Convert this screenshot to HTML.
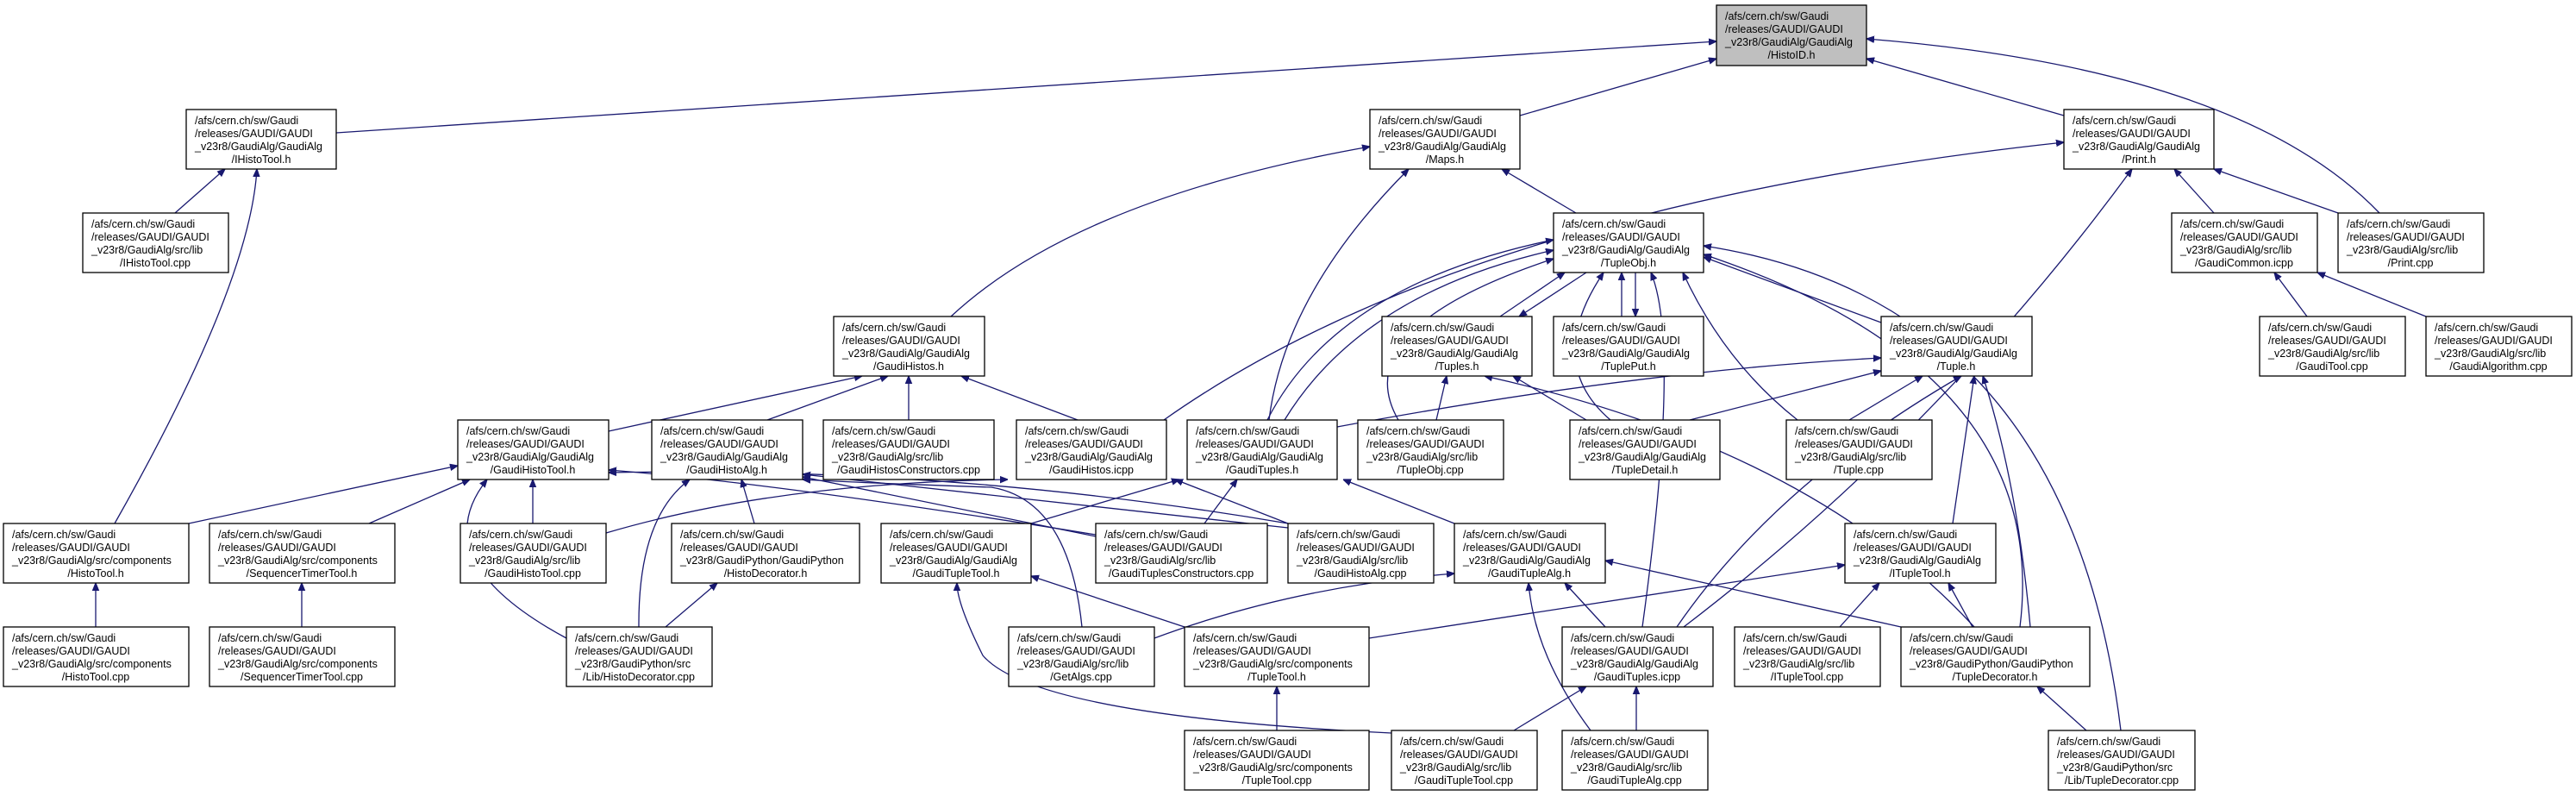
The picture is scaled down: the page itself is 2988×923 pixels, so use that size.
<!DOCTYPE html>
<html><head><meta charset="utf-8"><style>
html,body{margin:0;padding:0;background:#fff;}
svg{display:block;}
text{font-family:"Liberation Sans",Arial,sans-serif;font-size:12.5px;fill:#000;}
rect{fill:#fff;stroke:#000;stroke-width:1.3;}
path{fill:none;stroke:#191970;stroke-width:1.3;}
</style></head><body>
<svg width="2988" height="923" viewBox="0 0 2988 923" xmlns="http://www.w3.org/2000/svg">
<defs><marker id="a" viewBox="0 0 10 10" refX="10" refY="5" markerWidth="9" markerHeight="9" markerUnits="userSpaceOnUse" orient="auto"><path d="M0,1 L10,5 L0,9 z" style="fill:#191970;stroke:#191970"/></marker></defs>
<g marker-end="url(#a)">
<path d="M390,154 L1991,48"/>
<path d="M1763,134 L1991,68"/>
<path d="M2394,134 L2165,68"/>
<path d="M2760,247 Q2600,80 2165,45"/>
<path d="M203,247 L261,196"/>
<path d="M133,607 Q290,330 298,196"/>
<path d="M1103,367 Q1250,230 1589,170"/>
<path d="M1472,487 Q1490,340 1634,196"/>
<path d="M1828,247 L1742,196"/>
<path d="M1350,487 Q1700,240 2394,165"/>
<path d="M2568,247 L2522,196"/>
<path d="M2712,247 L2568,196"/>
<path d="M1953,727 Q2250,500 2473,196"/>
<path d="M2676,367 L2638,316"/>
<path d="M2814,367 L2688,316"/>
<path d="M1740,367 L1815,316"/>
<path d="M1840,316 L1762,367"/>
<path d="M1881,367 L1881,316"/>
<path d="M1897,316 L1897,367"/>
<path d="M2182,374 L1976,298"/>
<path d="M1470,487 Q1550,330 1802,278"/>
<path d="M1490,487 Q1580,340 1802,290"/>
<path d="M1622,487 Q1560,380 1802,300"/>
<path d="M1868,487 Q1790,420 1860,316"/>
<path d="M2085,487 Q2000,420 1952,316"/>
<path d="M1905,727 Q1950,400 1915,316"/>
<path d="M2343,727 Q2380,430 1976,295"/>
<path d="M2460,847 Q2400,350 1976,285"/>
<path d="M706,500 L1000,436"/>
<path d="M890,487 L1030,436"/>
<path d="M1054,487 L1054,436"/>
<path d="M1250,487 L1115,436"/>
<path d="M1666,487 L1678,436"/>
<path d="M1840,487 L1755,436"/>
<path d="M2290,727 Q2100,520 1722,436"/>
<path d="M1551,495 Q1900,430 2182,415"/>
<path d="M1960,487 L2182,430"/>
<path d="M2145,487 L2230,436"/>
<path d="M1945,727 Q2060,560 2275,436"/>
<path d="M2265,607 L2290,436"/>
<path d="M2355,727 Q2340,560 2300,436"/>
<path d="M219,607 L531,540"/>
<path d="M428,607 L545,556"/>
<path d="M618,607 L618,556"/>
<path d="M657,740 Q490,650 565,556"/>
<path d="M1271,620 Q900,560 706,545"/>
<path d="M1494,607 Q1100,540 706,548"/>
<path d="M741,727 Q740,600 800,556"/>
<path d="M875,607 L860,556"/>
<path d="M1494,612 L931,550"/>
<path d="M1271,622 L931,553"/>
<path d="M1196,607 L1368,556"/>
<path d="M1397,607 L1435,556"/>
<path d="M1494,607 L1363,556"/>
<path d="M1687,607 L1558,556"/>
<path d="M703,618 Q900,560 1169,556"/>
<path d="M1255,727 Q1240,580 1150,565 Q1000,560 931,556"/>
<path d="M1339,740 Q1500,680 1687,665"/>
<path d="M1374,727 L1196,668"/>
<path d="M1614,850 Q1200,830 1140,760 Q1110,700 1110,676"/>
<path d="M1588,740 L2140,655"/>
<path d="M1481,847 L1481,796"/>
<path d="M1862,727 L1815,676"/>
<path d="M1845,847 Q1780,760 1773,676"/>
<path d="M2205,727 L1862,650"/>
<path d="M1756,847 L1840,796"/>
<path d="M1898,847 L1898,796"/>
<path d="M2134,727 L2180,676"/>
<path d="M2288,727 L2260,676"/>
<path d="M2420,847 L2363,796"/>
<path d="M111,727 L111,676"/>
<path d="M350,727 L350,676"/>
<path d="M772,727 L832,676"/>
</g>

<g>
<rect x="1991" y="6" width="174" height="70" style="fill:#bfbfbf"/>
<text x="2001" y="23">/afs/cern.ch/sw/Gaudi</text><text x="2001" y="38">/releases/GAUDI/GAUDI</text><text x="2001" y="53">_v23r8/GaudiAlg/GaudiAlg</text><text x="2078" y="68" text-anchor="middle">/HistoID.h</text>
</g>
<!-- row1 -->
<rect x="216" y="127" width="174" height="69"/><text x="226" y="144">/afs/cern.ch/sw/Gaudi</text><text x="226" y="159">/releases/GAUDI/GAUDI</text><text x="226" y="174">_v23r8/GaudiAlg/GaudiAlg</text><text x="303" y="189" text-anchor="middle">/IHistoTool.h</text>
<rect x="1589" y="127" width="174" height="69"/><text x="1599" y="144">/afs/cern.ch/sw/Gaudi</text><text x="1599" y="159">/releases/GAUDI/GAUDI</text><text x="1599" y="174">_v23r8/GaudiAlg/GaudiAlg</text><text x="1676" y="189" text-anchor="middle">/Maps.h</text>
<rect x="2394" y="127" width="174" height="69"/><text x="2404" y="144">/afs/cern.ch/sw/Gaudi</text><text x="2404" y="159">/releases/GAUDI/GAUDI</text><text x="2404" y="174">_v23r8/GaudiAlg/GaudiAlg</text><text x="2481" y="189" text-anchor="middle">/Print.h</text>
<!-- row2 -->
<rect x="96" y="247" width="169" height="69"/><text x="106" y="264">/afs/cern.ch/sw/Gaudi</text><text x="106" y="279">/releases/GAUDI/GAUDI</text><text x="106" y="294">_v23r8/GaudiAlg/src/lib</text><text x="180" y="309" text-anchor="middle">/IHistoTool.cpp</text>
<rect x="1802" y="247" width="174" height="69"/><text x="1812" y="264">/afs/cern.ch/sw/Gaudi</text><text x="1812" y="279">/releases/GAUDI/GAUDI</text><text x="1812" y="294">_v23r8/GaudiAlg/GaudiAlg</text><text x="1889" y="309" text-anchor="middle">/TupleObj.h</text>
<rect x="2519" y="247" width="169" height="69"/><text x="2529" y="264">/afs/cern.ch/sw/Gaudi</text><text x="2529" y="279">/releases/GAUDI/GAUDI</text><text x="2529" y="294">_v23r8/GaudiAlg/src/lib</text><text x="2603" y="309" text-anchor="middle">/GaudiCommon.icpp</text>
<rect x="2712" y="247" width="169" height="69"/><text x="2722" y="264">/afs/cern.ch/sw/Gaudi</text><text x="2722" y="279">/releases/GAUDI/GAUDI</text><text x="2722" y="294">_v23r8/GaudiAlg/src/lib</text><text x="2796" y="309" text-anchor="middle">/Print.cpp</text>
<!-- row3 -->
<rect x="967" y="367" width="175" height="69"/><text x="977" y="384">/afs/cern.ch/sw/Gaudi</text><text x="977" y="399">/releases/GAUDI/GAUDI</text><text x="977" y="414">_v23r8/GaudiAlg/GaudiAlg</text><text x="1054" y="429" text-anchor="middle">/GaudiHistos.h</text>
<rect x="1603" y="367" width="174" height="69"/><text x="1613" y="384">/afs/cern.ch/sw/Gaudi</text><text x="1613" y="399">/releases/GAUDI/GAUDI</text><text x="1613" y="414">_v23r8/GaudiAlg/GaudiAlg</text><text x="1690" y="429" text-anchor="middle">/Tuples.h</text>
<rect x="1802" y="367" width="174" height="69"/><text x="1812" y="384">/afs/cern.ch/sw/Gaudi</text><text x="1812" y="399">/releases/GAUDI/GAUDI</text><text x="1812" y="414">_v23r8/GaudiAlg/GaudiAlg</text><text x="1889" y="429" text-anchor="middle">/TuplePut.h</text>
<rect x="2182" y="367" width="175" height="69"/><text x="2192" y="384">/afs/cern.ch/sw/Gaudi</text><text x="2192" y="399">/releases/GAUDI/GAUDI</text><text x="2192" y="414">_v23r8/GaudiAlg/GaudiAlg</text><text x="2269" y="429" text-anchor="middle">/Tuple.h</text>
<rect x="2621" y="367" width="169" height="69"/><text x="2631" y="384">/afs/cern.ch/sw/Gaudi</text><text x="2631" y="399">/releases/GAUDI/GAUDI</text><text x="2631" y="414">_v23r8/GaudiAlg/src/lib</text><text x="2705" y="429" text-anchor="middle">/GaudiTool.cpp</text>
<rect x="2814" y="367" width="169" height="69"/><text x="2824" y="384">/afs/cern.ch/sw/Gaudi</text><text x="2824" y="399">/releases/GAUDI/GAUDI</text><text x="2824" y="414">_v23r8/GaudiAlg/src/lib</text><text x="2898" y="429" text-anchor="middle">/GaudiAlgorithm.cpp</text>
<!-- row4 -->
<rect x="531" y="487" width="175" height="69"/><text x="541" y="504">/afs/cern.ch/sw/Gaudi</text><text x="541" y="519">/releases/GAUDI/GAUDI</text><text x="541" y="534">_v23r8/GaudiAlg/GaudiAlg</text><text x="618" y="549" text-anchor="middle">/GaudiHistoTool.h</text>
<rect x="756" y="487" width="175" height="69"/><text x="766" y="504">/afs/cern.ch/sw/Gaudi</text><text x="766" y="519">/releases/GAUDI/GAUDI</text><text x="766" y="534">_v23r8/GaudiAlg/GaudiAlg</text><text x="843" y="549" text-anchor="middle">/GaudiHistoAlg.h</text>
<rect x="955" y="487" width="198" height="69"/><text x="965" y="504">/afs/cern.ch/sw/Gaudi</text><text x="965" y="519">/releases/GAUDI/GAUDI</text><text x="965" y="534">_v23r8/GaudiAlg/src/lib</text><text x="1054" y="549" text-anchor="middle">/GaudiHistosConstructors.cpp</text>
<rect x="1179" y="487" width="174" height="69"/><text x="1189" y="504">/afs/cern.ch/sw/Gaudi</text><text x="1189" y="519">/releases/GAUDI/GAUDI</text><text x="1189" y="534">_v23r8/GaudiAlg/GaudiAlg</text><text x="1266" y="549" text-anchor="middle">/GaudiHistos.icpp</text>
<rect x="1377" y="487" width="174" height="69"/><text x="1387" y="504">/afs/cern.ch/sw/Gaudi</text><text x="1387" y="519">/releases/GAUDI/GAUDI</text><text x="1387" y="534">_v23r8/GaudiAlg/GaudiAlg</text><text x="1464" y="549" text-anchor="middle">/GaudiTuples.h</text>
<rect x="1575" y="487" width="169" height="69"/><text x="1585" y="504">/afs/cern.ch/sw/Gaudi</text><text x="1585" y="519">/releases/GAUDI/GAUDI</text><text x="1585" y="534">_v23r8/GaudiAlg/src/lib</text><text x="1659" y="549" text-anchor="middle">/TupleObj.cpp</text>
<rect x="1821" y="487" width="174" height="69"/><text x="1831" y="504">/afs/cern.ch/sw/Gaudi</text><text x="1831" y="519">/releases/GAUDI/GAUDI</text><text x="1831" y="534">_v23r8/GaudiAlg/GaudiAlg</text><text x="1908" y="549" text-anchor="middle">/TupleDetail.h</text>
<rect x="2072" y="487" width="169" height="69"/><text x="2082" y="504">/afs/cern.ch/sw/Gaudi</text><text x="2082" y="519">/releases/GAUDI/GAUDI</text><text x="2082" y="534">_v23r8/GaudiAlg/src/lib</text><text x="2156" y="549" text-anchor="middle">/Tuple.cpp</text>
<!-- row5 -->
<rect x="4" y="607" width="215" height="69"/><text x="14" y="624">/afs/cern.ch/sw/Gaudi</text><text x="14" y="639">/releases/GAUDI/GAUDI</text><text x="14" y="654">_v23r8/GaudiAlg/src/components</text><text x="111" y="669" text-anchor="middle">/HistoTool.h</text>
<rect x="243" y="607" width="215" height="69"/><text x="253" y="624">/afs/cern.ch/sw/Gaudi</text><text x="253" y="639">/releases/GAUDI/GAUDI</text><text x="253" y="654">_v23r8/GaudiAlg/src/components</text><text x="350" y="669" text-anchor="middle">/SequencerTimerTool.h</text>
<rect x="534" y="607" width="169" height="69"/><text x="544" y="624">/afs/cern.ch/sw/Gaudi</text><text x="544" y="639">/releases/GAUDI/GAUDI</text><text x="544" y="654">_v23r8/GaudiAlg/src/lib</text><text x="618" y="669" text-anchor="middle">/GaudiHistoTool.cpp</text>
<rect x="779" y="607" width="218" height="69"/><text x="789" y="624">/afs/cern.ch/sw/Gaudi</text><text x="789" y="639">/releases/GAUDI/GAUDI</text><text x="789" y="654">_v23r8/GaudiPython/GaudiPython</text><text x="888" y="669" text-anchor="middle">/HistoDecorator.h</text>
<rect x="1022" y="607" width="174" height="69"/><text x="1032" y="624">/afs/cern.ch/sw/Gaudi</text><text x="1032" y="639">/releases/GAUDI/GAUDI</text><text x="1032" y="654">_v23r8/GaudiAlg/GaudiAlg</text><text x="1109" y="669" text-anchor="middle">/GaudiTupleTool.h</text>
<rect x="1271" y="607" width="199" height="69"/><text x="1281" y="624">/afs/cern.ch/sw/Gaudi</text><text x="1281" y="639">/releases/GAUDI/GAUDI</text><text x="1281" y="654">_v23r8/GaudiAlg/src/lib</text><text x="1370" y="669" text-anchor="middle">/GaudiTuplesConstructors.cpp</text>
<rect x="1494" y="607" width="169" height="69"/><text x="1504" y="624">/afs/cern.ch/sw/Gaudi</text><text x="1504" y="639">/releases/GAUDI/GAUDI</text><text x="1504" y="654">_v23r8/GaudiAlg/src/lib</text><text x="1578" y="669" text-anchor="middle">/GaudiHistoAlg.cpp</text>
<rect x="1687" y="607" width="175" height="69"/><text x="1697" y="624">/afs/cern.ch/sw/Gaudi</text><text x="1697" y="639">/releases/GAUDI/GAUDI</text><text x="1697" y="654">_v23r8/GaudiAlg/GaudiAlg</text><text x="1774" y="669" text-anchor="middle">/GaudiTupleAlg.h</text>
<rect x="2140" y="607" width="175" height="69"/><text x="2150" y="624">/afs/cern.ch/sw/Gaudi</text><text x="2150" y="639">/releases/GAUDI/GAUDI</text><text x="2150" y="654">_v23r8/GaudiAlg/GaudiAlg</text><text x="2227" y="669" text-anchor="middle">/ITupleTool.h</text>
<!-- row6 -->
<rect x="4" y="727" width="215" height="69"/><text x="14" y="744">/afs/cern.ch/sw/Gaudi</text><text x="14" y="759">/releases/GAUDI/GAUDI</text><text x="14" y="774">_v23r8/GaudiAlg/src/components</text><text x="111" y="789" text-anchor="middle">/HistoTool.cpp</text>
<rect x="243" y="727" width="215" height="69"/><text x="253" y="744">/afs/cern.ch/sw/Gaudi</text><text x="253" y="759">/releases/GAUDI/GAUDI</text><text x="253" y="774">_v23r8/GaudiAlg/src/components</text><text x="350" y="789" text-anchor="middle">/SequencerTimerTool.cpp</text>
<rect x="657" y="727" width="169" height="69"/><text x="667" y="744">/afs/cern.ch/sw/Gaudi</text><text x="667" y="759">/releases/GAUDI/GAUDI</text><text x="667" y="774">_v23r8/GaudiPython/src</text><text x="741" y="789" text-anchor="middle">/Lib/HistoDecorator.cpp</text>
<rect x="1170" y="727" width="169" height="69"/><text x="1180" y="744">/afs/cern.ch/sw/Gaudi</text><text x="1180" y="759">/releases/GAUDI/GAUDI</text><text x="1180" y="774">_v23r8/GaudiAlg/src/lib</text><text x="1254" y="789" text-anchor="middle">/GetAlgs.cpp</text>
<rect x="1374" y="727" width="214" height="69"/><text x="1384" y="744">/afs/cern.ch/sw/Gaudi</text><text x="1384" y="759">/releases/GAUDI/GAUDI</text><text x="1384" y="774">_v23r8/GaudiAlg/src/components</text><text x="1481" y="789" text-anchor="middle">/TupleTool.h</text>
<rect x="1812" y="727" width="175" height="69"/><text x="1822" y="744">/afs/cern.ch/sw/Gaudi</text><text x="1822" y="759">/releases/GAUDI/GAUDI</text><text x="1822" y="774">_v23r8/GaudiAlg/GaudiAlg</text><text x="1899" y="789" text-anchor="middle">/GaudiTuples.icpp</text>
<rect x="2012" y="727" width="169" height="69"/><text x="2022" y="744">/afs/cern.ch/sw/Gaudi</text><text x="2022" y="759">/releases/GAUDI/GAUDI</text><text x="2022" y="774">_v23r8/GaudiAlg/src/lib</text><text x="2096" y="789" text-anchor="middle">/ITupleTool.cpp</text>
<rect x="2205" y="727" width="219" height="69"/><text x="2215" y="744">/afs/cern.ch/sw/Gaudi</text><text x="2215" y="759">/releases/GAUDI/GAUDI</text><text x="2215" y="774">_v23r8/GaudiPython/GaudiPython</text><text x="2314" y="789" text-anchor="middle">/TupleDecorator.h</text>
<!-- row7 -->
<rect x="1374" y="847" width="214" height="69"/><text x="1384" y="864">/afs/cern.ch/sw/Gaudi</text><text x="1384" y="879">/releases/GAUDI/GAUDI</text><text x="1384" y="894">_v23r8/GaudiAlg/src/components</text><text x="1481" y="909" text-anchor="middle">/TupleTool.cpp</text>
<rect x="1614" y="847" width="169" height="69"/><text x="1624" y="864">/afs/cern.ch/sw/Gaudi</text><text x="1624" y="879">/releases/GAUDI/GAUDI</text><text x="1624" y="894">_v23r8/GaudiAlg/src/lib</text><text x="1698" y="909" text-anchor="middle">/GaudiTupleTool.cpp</text>
<rect x="1812" y="847" width="169" height="69"/><text x="1822" y="864">/afs/cern.ch/sw/Gaudi</text><text x="1822" y="879">/releases/GAUDI/GAUDI</text><text x="1822" y="894">_v23r8/GaudiAlg/src/lib</text><text x="1896" y="909" text-anchor="middle">/GaudiTupleAlg.cpp</text>
<rect x="2376" y="847" width="170" height="69"/><text x="2386" y="864">/afs/cern.ch/sw/Gaudi</text><text x="2386" y="879">/releases/GAUDI/GAUDI</text><text x="2386" y="894">_v23r8/GaudiPython/src</text><text x="2461" y="909" text-anchor="middle">/Lib/TupleDecorator.cpp</text>
</svg>
</body></html>
